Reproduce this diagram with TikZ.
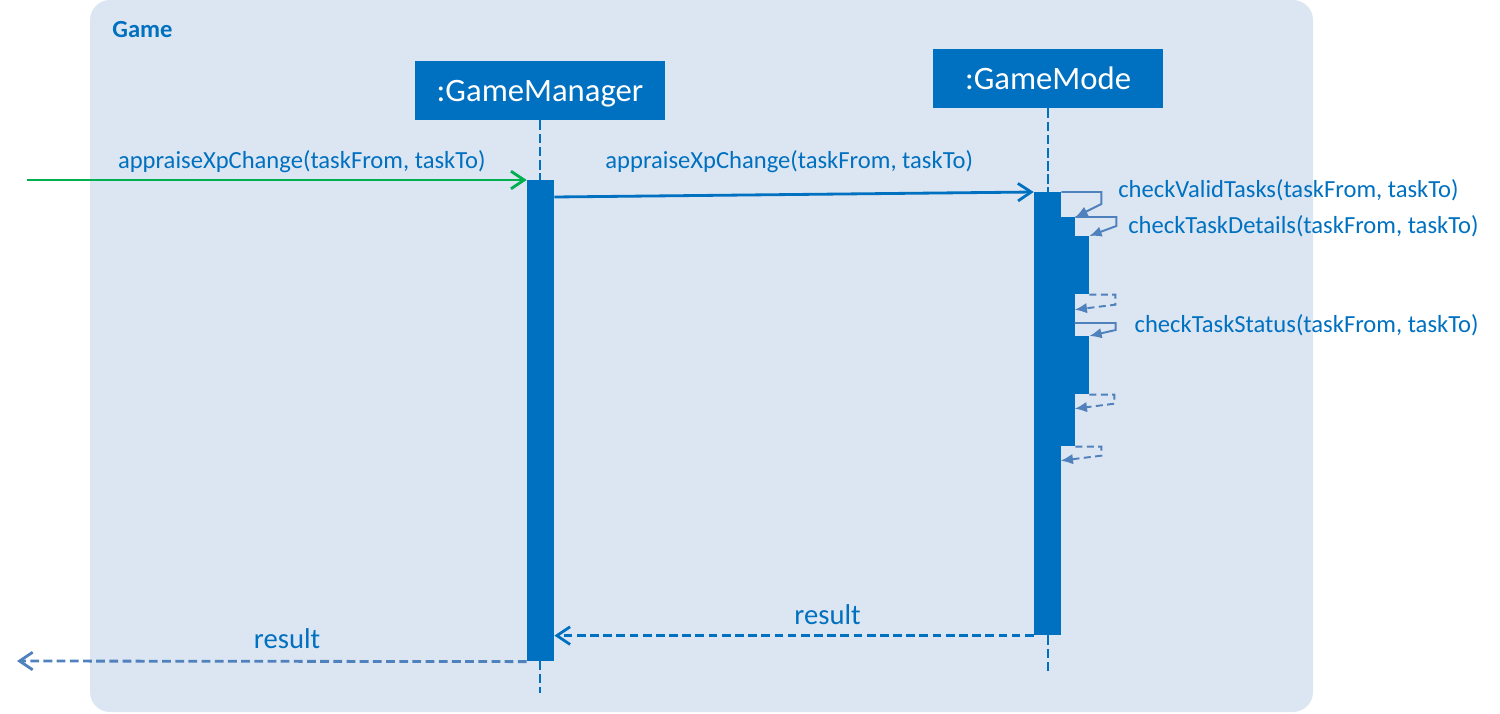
\documentclass[tikz,border=0pt]{standalone}
\usepackage{fontspec}
\setmainfont{Carlito}
\usetikzlibrary{positioning,arrows.meta,calc}
\definecolor{umlblue}{HTML}{0070C0}
\definecolor{callblue}{HTML}{4F81BD}
\definecolor{foundgreen}{HTML}{00B050}
\definecolor{pkgfill}{HTML}{DCE6F2}
\tikzset{
  head/.style={fill=umlblue,text=white,font=\fontsize{18.6}{22}\selectfont,minimum height=1.18cm,inner sep=0,text depth=0pt},
  act/.style={fill=umlblue,inner sep=0,minimum width=0.54cm,anchor=north},
  subact/.style={fill=umlblue,inner sep=0,minimum width=0.28cm,anchor=north},
  life/.style={umlblue,line width=1.6pt,dash pattern=on 5.5pt off 2pt},
  msg/.style={umlblue,line width=1.6pt,-{Straight Barb[length=7.5pt,width=10pt]}},
  ret/.style={msg,dash pattern=on 5pt off 2.5pt},
  selfcall/.style={callblue,line width=1.1pt,-{Latex[length=7pt,width=6pt]}},
  selfret/.style={selfcall,dash pattern=on 4pt off 2.5pt},
  lbl/.style={text=umlblue,font=\fontsize{14}{16}\selectfont,inner sep=0},
  reslbl/.style={text=umlblue,font=\fontsize{16.3}{18}\selectfont,inner sep=0}
}
\begin{document}
\begin{tikzpicture}[x=0.02cm,y=-0.02cm]
\useasboundingbox (0,0) rectangle (1500,713);
\fill[pkgfill,rounded corners=0.4cm] (90,0) rectangle (1313,712);
\node[anchor=west,inner sep=0,text=umlblue,font=\bfseries\fontsize{14}{16}\selectfont] (pkg) at (112,30) {Game};
\node[head,minimum width=5cm] (mgr) at (540,90.5) {:GameManager};
\node[head,minimum width=4.6cm] (mode) at (1048,78.5) {:GameMode};
\coordinate (mgrEnd) at (540,693);
\coordinate (modeEnd) at (1048,672);
\draw[life] (mgr) -- (mgrEnd);
\draw[life] (mode) -- (modeEnd);
\node[act,minimum height=9.62cm] (mgrBar) at (540.5,180) {};
\node[act,minimum height=8.86cm] (modeBar) at (1047.5,192) {};
\node[subact,minimum height=4.58cm] (validBar) at (1068,217) {};
\node[subact,minimum height=1.16cm] (detailBar) at (1082,236) {};
\node[subact,minimum height=1.16cm] (statusBar) at (1082,336) {};
\coordinate (entry) at (27,180);
\coordinate (exit) at (17,661);
\draw[msg,foundgreen] (entry) -- node[lbl,pos=0.55,above=0.11cm] {appraiseXpChange(taskFrom, taskTo)} (mgrBar.north west);
\draw[msg] ($(mgrBar.north east)+(0,17)$) -- node[lbl,pos=0.49,above=0.41cm] {appraiseXpChange(taskFrom, taskTo)} (modeBar.north west);
\draw[selfcall] (modeBar.north east) -- ++(40,0) node[lbl,right=0.32cm,yshift=0.04cm] {checkValidTasks(taskFrom, taskTo)} -- ++(0,12) -- (validBar.north east);
\draw[selfcall] (validBar.north east) -- ++(41,0) node[lbl,right=0.22cm,yshift=-0.18cm] {checkTaskDetails(taskFrom, taskTo)} -- ++(0,9) -- (detailBar.north east);
\draw[selfret] (detailBar.south east) -- ++(26,0) -- ++(0,10) -- ($(detailBar.south west)+(0,15)$);
\draw[selfcall] ($(statusBar.north west)+(0,-13)$) -- ++(41,0) node[lbl,right=0.36cm,yshift=-0.04cm] {checkTaskStatus(taskFrom, taskTo)} -- ++(0,7) -- (statusBar.north east);
\draw[selfret] (statusBar.south east) -- ++(25,0) -- ++(0,9) -- ($(statusBar.south west)+(0,14)$);
\draw[selfret] (validBar.south east) -- ++(26,0) -- ++(0,9) -- ($(validBar.south west)+(0,14)$);
\draw[ret] (modeBar.south west) -- node[reslbl,pos=0.43,above=0.2cm] {result} (modeBar.south west -| mgrBar.east);
\draw[ret,callblue] (mgrBar.south west) -- node[reslbl,pos=0.47,above=0.22cm] {result} (exit);
\end{tikzpicture}
\end{document}
